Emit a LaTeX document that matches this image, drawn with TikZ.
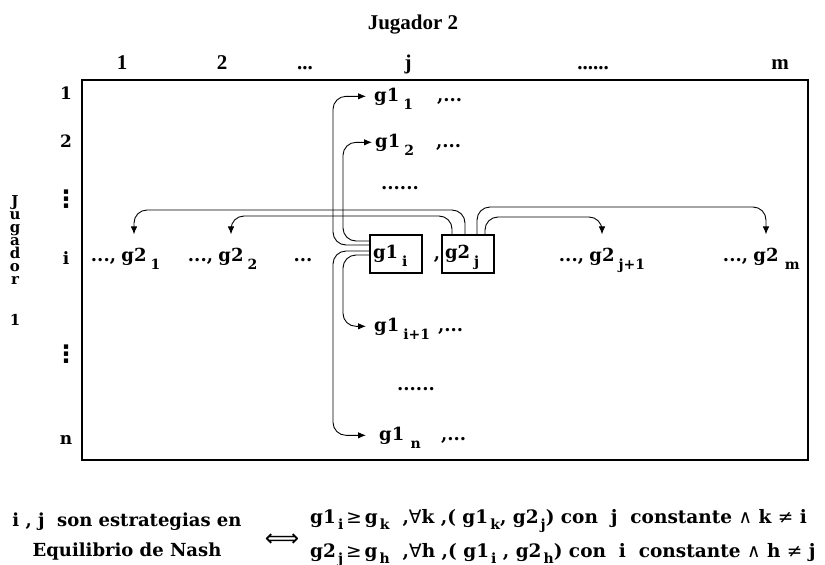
\documentclass[tikz,border=0pt]{standalone}
\usepackage{fontspec}
\setmainfont{DejaVu Serif}
\newfontfamily\tms{Liberation Serif}
\newfontfamily\sym{DejaVu Sans}
\usetikzlibrary{arrows.meta}

% lowered index that takes no width (labels) and one that does (formulas)
\newcommand\lo[1]{\rlap{\hspace{4pt}\smash{\raisebox{-8pt}{\fontsize{14}{14}\selectfont #1}}}}
\newcommand\lw[1]{\hspace{2pt}\raisebox{-6pt}{\fontsize{14}{14}\selectfont #1}}
\newcommand\ops[1]{{\sym\mdseries #1}}

\begin{document}
\begin{tikzpicture}[x=1pt,y=-1pt,
  every node/.style={font=\fontsize{18}{20}\selectfont\bfseries, inner sep=1pt},
  hdr/.style={font=\tms\fontsize{21}{23}\selectfont\bfseries, anchor=base},
  row/.style={anchor=base, font=\fontsize{17}{19}\selectfont\bfseries},
  vdot/.style={font=\sym\fontsize{24}{24}\selectfont\bfseries},
  val/.style={anchor=base west, inner xsep=8pt, inner ysep=1pt},
  etc/.style={anchor=base west},
  arr/.style={line width=0.9pt, rounded corners=13pt, -{Latex[length=8pt,width=6.5pt]}},
  pick/.style={draw, line width=1.8pt, minimum width=52pt, minimum height=38pt, inner sep=2pt}]

\useasboundingbox (0,0) rectangle (825,565);

% payoff table frame
\draw[line width=2.2pt] (82,80) rectangle (808,460);

% player 2 and its strategies
\node[hdr] (p2) at (413,29) {Jugador 2};
\node[hdr] (c1) at (122,69) {1};
\node[hdr] (c2) at (222,69) {2};
\node[hdr] (c3) at (305,69) {...};
\node[hdr] (cj) at (408,69) {j};
\node[hdr] (c5) at (593,69) {......};
\node[hdr] (cm) at (780,69) {m};

% player 1 and its strategies, written downwards
\node[align=center, anchor=north, inner sep=0pt, font=\fontsize{15}{13}\selectfont\bfseries] (p1) at (15,195)
  {J\\u\\g\\a\\d\\o\\r\\[28pt]1};
\node[row] (r1) at (66,99) {1};
\node[row] (r2) at (66,147) {2};
\node[vdot] (rv1) at (66,199) {⋮};
\node[row] (ri) at (66,264) {i};
\node[vdot] (rv2) at (66,354) {⋮};
\node[row] (rn) at (66,444) {n};

% the equilibrium cell
\node[pick] (gi) at (396,254) {\makebox[46pt][l]{\raisebox{2pt}{g1\lo{i}}}};
\node[anchor=base] (cm1) at (437,259) {,};
\node[pick] (gj) at (468,254) {\makebox[46pt][l]{\raisebox{2pt}{g2\lo{j}}}};

% player 1 payoffs in column j
\node[val] (a1) at (366,101) {g1\lo{1}};
\node[etc] (e1) at (436,101) {,...};
\node[val, inner xsep=3pt] (a2) at (372,147) {g1\lo{2}};
\node[etc] (e2) at (435,147) {,...};
\node[anchor=base] (d1) at (400,189) {......};
\node[val] (a3) at (366,331) {g1\lo{i+1}};
\node[etc] (e3) at (437,331) {,...};
\node[anchor=base] (d2) at (416,390) {......};
\node[val, inner xsep=13pt] (an) at (366,440) {g1\lo{\,n}};
\node[etc] (en) at (440,440) {,...};

% player 2 payoffs in row i
\node[anchor=base] (b1) at (134,261) {g2\lo{1}};
\node[anchor=base east] (f1) at (b1.base west) {...,\,};
\node[anchor=base] (b2) at (231,261) {g2\lo{2}};
\node[anchor=base east] (f2) at (b2.base west) {...,\,};
\node[anchor=base] (f3) at (303,261) {...};
\node[anchor=base] (b3) at (602,261) {g2\lo{j+1}};
\node[anchor=base east] (f4) at (b3.base west) {...,\,};
\node[anchor=base] (bm) at (766,261) {g2\lo{\,m}};
\node[anchor=base east] (f5) at (bm.base west) {...,\,};

% comparisons along column j
\draw[arr] ([yshift=13pt]gi.west) -| (343,200) |- (a2.west);
\draw[arr] ([yshift=9pt]gi.west)  -| (333,200) |- (a1.west);
\draw[arr] ([yshift=3pt]gi.west)  -| (333,300) |- (an.west);
\draw[arr] ([yshift=-1pt]gi.west) -| (343,300) |- (a3.west);

% comparisons along row i
\draw[arr, shorten >=12pt] ([xshift=-3pt]gj.north)  |- (300,210) -| (b1.north);
\draw[arr, shorten >=12pt] ([xshift=-16pt]gj.north) |- (300,216) -| (b2.north);
\draw[arr, shorten >=12pt] ([xshift=9pt]gj.north)   |- (600,207) -| (bm.north);
\draw[arr, shorten >=12pt] ([xshift=17pt]gj.north)  |- (550,217) -| (b3.north);

% definition
\node[align=center, font=\fontsize{18}{30}\selectfont\bfseries] (defn) at (127,537)
  {i , j\ \ son estrategias en\\Equilibrio de Nash};
\node[font=\sym\fontsize{24}{24}\selectfont] (equiv) at (282,540) {⟺};
\node[anchor=base west, font=\fontsize{18.5}{20}\selectfont\bfseries] (cond1) at (309,523)
  {g1\lw{i}\,\ops{≥}\,g\lw{k}\ \ ,\ops{∀}k ,( g1\lw{k}, g2\lw{j}) con\ \ j\ \ constante \ops{∧} k \ops{≠} i};
\node[anchor=base west, font=\fontsize{18.5}{20}\selectfont\bfseries] (cond2) at (309,557)
  {g2\lw{j}\,\ops{≥}\,g\lw{h}\ \ ,\ops{∀}h ,( g1\lw{i} , g2\lw{h}) con\ \ i\ \ constante \ops{∧} h \ops{≠} j};
\end{tikzpicture}
\end{document}
